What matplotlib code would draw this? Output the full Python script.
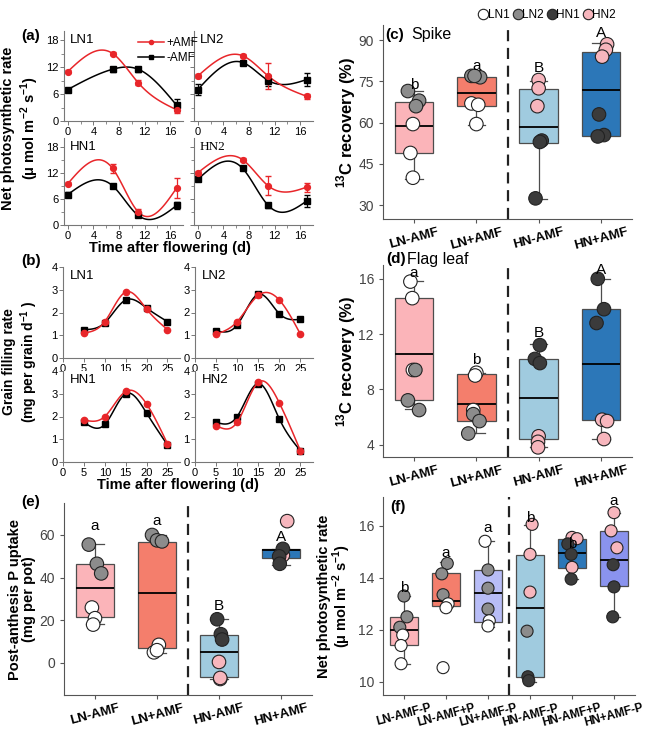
import numpy as np
import matplotlib
matplotlib.use('Agg')
import matplotlib.pyplot as plt
from matplotlib.lines import Line2D

plt.rcParams['font.family'] = ['Liberation Sans', 'DejaVu Sans']
plt.rcParams['mathtext.fontset'] = 'custom'
plt.rcParams['mathtext.rm'] = 'Liberation Sans'
plt.rcParams['mathtext.bf'] = 'Liberation Sans:bold'

# =============================================================================
#                 DATOS
# =============================================================================

sub_names = ['LN1', 'LN2', 'HN1', 'HN2']

# (a) fotosintesis neta vs tiempo
a_t = [0, 7, 11, 17]
a_plus = [[11, 15, 8.5, 2.5], [10, 14.5, 10, 5.5],
          [9.5, 13, 3.0, 8.5], [12, 15, 9, 8.7]]
a_minus = [[7, 11.5, 11.5, 3.5], [7, 13, 9, 9.2],
           [7, 9, 2.2, 4.5], [10.5, 13, 4.5, 5.5]]
a_plus_err = [[0.4, 0.4, 0.6, 0.8], [0.5, 0.3, 2.8, 0.6],
              [0.4, 1.0, 0.6, 2.3], [0.4, 0.4, 2.2, 1.0]]
a_minus_err = [[0.3, 0.6, 0.5, 1.3], [1.3, 0.3, 1.2, 1.5],
               [0.6, 0.3, 0.4, 0.8], [0.3, 0.3, 0.6, 1.3]]

# (b) tasa de llenado de grano
b_t = [5, 10, 15, 20, 25]
b_plus = [[1.1, 1.6, 2.9, 2.15, 1.25], [1.05, 1.6, 2.75, 2.55, 1.05],
          [1.85, 2.0, 3.1, 2.55, 0.8], [1.6, 1.75, 3.5, 2.6, 0.5]]
b_minus = [[1.25, 1.55, 2.55, 2.2, 1.6], [1.2, 1.45, 2.8, 1.95, 1.7],
           [1.75, 1.65, 3.0, 2.15, 0.75], [1.75, 2.0, 3.45, 1.9, 0.5]]

cats4 = ['LN-AMF', 'LN+AMF', 'HN-AMF', 'HN+AMF']
cats6 = ['LN-AMF-P', 'LN-AMF+P', 'LN+AMF-P', 'HN-AMF-P', 'HN-AMF+P', 'HN+AMF-P']

# (c) recuperacion 13C espiga
c_q1 = [48.9, 66.0, 52.5, 55.1]
c_med = [58.7, 70.7, 58.4, 71.8]
c_q3 = [67.5, 76.5, 72.2, 85.6]
c_lo = [39.5, 59.1, 32.2, 55.0]
c_hi = [71.5, 77.0, 75.1, 89.0]
c_vals = [[71.5, 68, 66, 59.5, 49, 40], [77, 76.5, 77, 67, 66.5, 59.5],
          [75.5, 72.5, 66, 53.5, 53, 32.5], [88.5, 86.5, 84, 63, 55.5, 55]]
c_grp = [['LN2'] * 3 + ['LN1'] * 3, ['LN2'] * 3 + ['LN1'] * 3,
         ['HN2'] * 3 + ['HN1'] * 3, ['HN2'] * 3 + ['HN1'] * 3]
c_letters = ['b', 'a', 'B', 'A']
c_letter_y = [73.6, 80.6, 79.8, 92.5]

# (d) recuperacion 13C hoja bandera
d_q1 = [7.23, 5.72, 4.4, 5.8]
d_med = [10.55, 6.94, 7.37, 9.85]
d_q3 = [14.6, 9.1, 10.2, 13.85]
d_lo = [6.55, 4.85, 3.85, 4.4]
d_hi = [15.83, 9.2, 11.3, 16.0]
d_vals = [[15.8, 14.6, 9.4, 9.4, 7.2, 6.5], [9.2, 9.0, 6.5, 6.2, 5.7, 4.8],
          [11.2, 10.2, 9.9, 4.6, 4.2, 3.8], [16.0, 13.8, 12.8, 5.8, 5.7, 4.4]]
d_grp = [['LN1'] * 3 + ['LN2'] * 3, ['LN1'] * 3 + ['LN2'] * 3,
         ['HN1'] * 3 + ['HN2'] * 3, ['HN1'] * 3 + ['HN2'] * 3]
d_letters = ['a', 'b', 'B', 'A']
d_letter_y = [16.4, 10.1, 12.1, 16.65]

# (e) absorcion de P post-antesis
e_q1 = [21.4, 7.0, -6.5, 49.3]
e_med = [35.3, 32.6, 5.1, 53.0]
e_q3 = [46.5, 56.7, 13.0, 53.5]
e_lo = [18.1, 4.7, -7.4, 46.0]
e_hi = [55.8, 60.0, 20.5, 53.5]
e_vals = [[55.5, 46.5, 42, 26, 21, 18], [60, 57.5, 57, 8.5, 5, 6],
          [20.5, 13.5, 11, 0.5, -7.5, -7], [66.5, 50.5, 53.5, 50, 46.5]]
e_grp = [['LN2'] * 3 + ['LN1'] * 3, ['LN2'] * 3 + ['LN1'] * 3,
         ['HN1'] * 3 + ['HN2'] * 3, ['HN2', 'HN2', 'HN1', 'HN1', 'HN1']]
e_letters = ['a', 'a', 'B', 'A']
e_letter_y = [64, 66.5, 26.5, 59]

# (f) fotosintesis neta con P
f_q1 = [11.43, 12.9, 12.3, 10.2, 14.37, 13.7]
f_med = [12.0, 13.1, 13.43, 12.83, 14.94, 14.7]
f_q3 = [12.5, 14.2, 14.3, 14.87, 15.5, 15.8]
f_lo = [10.7, 12.9, 12.1, 10.0, 13.96, 12.5]
f_hi = [13.3, 14.6, 15.43, 16.04, 15.5, 16.5]
f_vals = [[13.3, 12.5, 12.1, 11.8, 11.4, 10.7],
          [14.55, 14.15, 13.35, 13.0, 12.85, 10.55],
          [15.4, 14.3, 13.6, 12.8, 12.35, 12.15],
          [16.05, 14.9, 13.45, 11.95, 10.2, 10.05],
          [15.55, 15.5, 14.4, 15.3, 14.9, 13.95],
          [16.5, 15.8, 15.15, 14.5, 13.65, 12.5]]
f_grp = [['LN2'] * 3 + ['LN1'] * 3,
         ['LN2'] * 3 + ['LN1'] * 3,
         ['LN1', 'LN2', 'LN2', 'LN2', 'LN1', 'LN1'],
         ['HN2', 'HN2', 'HN2', 'LN2', 'HN1', 'HN1'],
         ['HN2'] * 3 + ['HN1'] * 3,
         ['HN2'] * 3 + ['HN1'] * 3]
f_letters = ['b', 'a', 'a', 'b', 'b', 'a']
f_letter_y = [13.6, 14.95, 15.9, 16.3, 15.3, 16.95]

# jitter horizontal
c_jit = [[-0.1, 0.08, 0.03, -0.02, -0.06, -0.02], [-0.08, 0.06, -0.03, -0.08, 0.03, 0.0],
         [0.0, 0.0, -0.02, 0.05, 0.02, -0.05], [0.1, 0.08, 0.02, -0.03, 0.05, -0.05]]
d_jit = [[-0.06, -0.03, -0.02, 0.02, -0.1, 0.08], [0.0, -0.02, -0.05, -0.05, 0.05, -0.13],
         [0.02, -0.06, 0.02, 0.0, -0.01, -0.01], [-0.05, 0.05, -0.07, 0.02, 0.1, 0.05]]
e_jit = [[-0.1, 0.03, 0.1, -0.05, 0.0, -0.03], [-0.08, 0.0, 0.08, 0.03, -0.05, 0.0],
         [-0.03, 0.03, 0.05, 0.0, 0.02, 0.02], [0.1, 0.03, 0.03, -0.03, -0.02]]
f_jit = [[0.0, 0.07, -0.1, -0.03, -0.07, -0.07], [0.03, -0.1, -0.07, 0.05, 0.0, -0.07],
         [-0.07, 0.0, 0.0, 0.0, 0.03, 0.0], [0.05, 0.0, 0.0, -0.07, -0.05, -0.03],
         [0.0, 0.12, 0.0, -0.1, -0.02, -0.02], [0.0, -0.07, 0.07, -0.02, 0.0, -0.03]]

grp_col = {'LN1': 'white', 'LN2': '#8c8c8c', 'HN1': '#3b3b3b', 'HN2': '#f7b6bd'}
box_col4 = ['#fbb4b9', '#f47e6c', '#a0cbdf', '#2c77b8']
box_col6 = ['#fbb4b9', '#f47e6c', '#b8bdf7', '#a0cbdf', '#2c77b8', '#8a93ee']
red = '#e8262a'

W, H = 645, 734


def rect(l, t, r, b):
    return [l / W, 1 - b / H, (r - l) / W, (b - t) / H]


def spline(x, y, n=120):
    # spline cubica natural
    x = np.asarray(x, float)
    y = np.asarray(y, float)
    nn = len(x)
    h = np.diff(x)
    A = np.zeros((nn, nn))
    r = np.zeros(nn)
    A[0, 0] = A[-1, -1] = 1
    for i in range(1, nn - 1):
        A[i, i - 1] = h[i - 1]
        A[i, i] = 2 * (h[i - 1] + h[i])
        A[i, i + 1] = h[i]
        r[i] = 3 * ((y[i + 1] - y[i]) / h[i] - (y[i] - y[i - 1]) / h[i - 1])
    c = np.linalg.solve(A, r)
    b = (y[1:] - y[:-1]) / h - h * (2 * c[:-1] + c[1:]) / 3
    d = (c[1:] - c[:-1]) / (3 * h)
    xs = np.linspace(x[0], x[-1], n)
    i = np.clip(np.searchsorted(x, xs) - 1, 0, nn - 2)
    dx = xs - x[i]
    return xs, y[i] + b[i] * dx + c[i] * dx ** 2 + d[i] * dx ** 3


fig = plt.figure(figsize=(6.45, 7.34), dpi=100)

# =============================================================================
#                 PANEL (a)
# =============================================================================

a_rects = [(64, 31, 183, 121), (194, 31, 313, 121), (64, 138, 183, 225), (194, 138, 313, 225)]
for k in range(4):
    ax = fig.add_axes(rect(*a_rects[k]))
    for yy, ee, col, mk in [(a_minus[k], a_minus_err[k], 'black', 's'),
                            (a_plus[k], a_plus_err[k], red, 'o')]:
        xs, ys = spline(a_t, yy)
        ax.plot(xs, ys, color=col, lw=1.1)
        ax.errorbar(a_t, yy, yerr=ee, fmt=mk, color=col, ms=4.2, elinewidth=0.9, capsize=2)
    ax.set_xlim(-0.6, 18)
    ax.set_ylim(0, 20)
    ax.set_xticks([0, 4, 8, 12, 16])
    ax.set_xticks([2, 6, 10, 14], minor=True)
    ax.set_yticks([0, 6, 12, 18])
    ax.set_yticks([3, 9, 15], minor=True)
    for s in ['top', 'right']:
        ax.spines[s].set_visible(False)
    for s in ['left', 'bottom']:
        ax.spines[s].set_color('#777777')
    ax.tick_params(labelsize=8, length=3, width=0.7, color='#777777', pad=1)
    ax.tick_params(which='minor', length=2, width=0.6, color='#777777')
    if k % 2 == 1:
        ax.set_yticklabels([])
    fam = ['Liberation Serif'] if sub_names[k] == 'HN2' else ['Liberation Sans']
    ax.text(0.05, 0.97, sub_names[k], transform=ax.transAxes, fontsize=9.5,
            va='top', family=fam)

fig.legend(handles=[Line2D([], [], color=red, marker='o', ms=3, lw=1.1, label='+AMF'),
                    Line2D([], [], color='black', marker='s', ms=3, lw=1.1, label='-AMF')],
           loc='upper left', bbox_to_anchor=(132 / W, 1 - 31 / H), frameon=False,
           fontsize=8.5, handlelength=2.2, handletextpad=0.2, labelspacing=0.3,
           borderpad=0)

fig.text(31 / W, 1 - 36 / H, '(a)', fontsize=11, fontweight='bold', va='center', ha='center')
fig.text(21 / W, 1 - 128 / H,
         'Net photosynthetic rate\n(μ mol m$^{\\mathbf{-2}}$ s$^{\\mathbf{-1}}$)',
         rotation=90, fontsize=10.5, fontweight='bold', ha='center', va='center',
         multialignment='center')
fig.text(170 / W, 1 - 248 / H, 'Time after flowering (d)', fontsize=10.5,
         fontweight='bold', ha='center', va='center')

# =============================================================================
#                 PANEL (b)
# =============================================================================

b_rects = [(63, 267, 180, 358), (195, 267, 313, 358), (63, 371, 180, 462), (195, 371, 313, 462)]
for k in range(4):
    ax = fig.add_axes(rect(*b_rects[k]))
    for yy, col, mk in [(b_minus[k], 'black', 's'), (b_plus[k], red, 'o')]:
        xs, ys = spline(b_t, yy)
        ax.plot(xs, ys, color=col, lw=1.1)
        ax.plot(b_t, yy, mk, color=col, ms=4.5)
    ax.set_xlim(0, 28)
    ax.set_ylim(0, 4)
    ax.set_xticks([0, 5, 10, 15, 20, 25])
    ax.set_yticks([0, 1, 2, 3, 4])
    for s in ['top', 'right']:
        ax.spines[s].set_visible(False)
    for s in ['left', 'bottom']:
        ax.spines[s].set_color('#777777')
    ax.tick_params(labelsize=8, length=3, width=0.7, color='#777777', pad=1)
    ax.text(0.06, 0.97, sub_names[k], transform=ax.transAxes, fontsize=9.5, va='top')

fig.text(31 / W, 1 - 261 / H, '(b)', fontsize=11, fontweight='bold', va='center', ha='center')
fig.text(21 / W, 1 - 362 / H, 'Grain filling rate\n(mg per grain d$^{\\mathbf{-1}}$ )',
         rotation=90, fontsize=10, fontweight='bold', ha='center', va='center',
         multialignment='center')
fig.text(178 / W, 1 - 485 / H, 'Time after flowering (d)', fontsize=10.5,
         fontweight='bold', ha='center', va='center')

# =============================================================================
#                 PANELES DE CAJAS
# =============================================================================


def panel_cajas(r, q1, med, q3, lo, hi, vals, grp, jit, letters, ly, cats, cols,
                ylim, yticks, bw, size):
    ax = fig.add_axes(rect(*r))
    n = len(cats)
    pos = np.arange(1, n + 1)
    stats = [dict(q1=q1[i], med=med[i], q3=q3[i], whislo=lo[i], whishi=hi[i], fliers=[])
             for i in range(n)]
    bp = ax.bxp(stats, positions=pos, widths=bw, patch_artist=True, showcaps=True,
                capwidths=0.28, medianprops=dict(color='black', lw=1.3),
                boxprops=dict(edgecolor='#4d4d4d', lw=0.9),
                whiskerprops=dict(color='#4d4d4d', lw=0.9),
                capprops=dict(color='#4d4d4d', lw=0.9))
    for patch, col in zip(bp['boxes'], cols):
        patch.set_facecolor(col)
    for i in range(n):
        xx = pos[i] + np.array(jit[i])
        ax.scatter(xx, vals[i], s=size, c=[grp_col[g] for g in grp[i]],
                   edgecolors='#222222', linewidths=0.8, zorder=3)
        ax.text(pos[i], ly[i], letters[i], ha='center', va='center', fontsize=11)
    ax.axvline(n / 2 + 0.5, color='#222222', ls=(0, (5, 3)), lw=1.6)
    ax.set_xlim(0.5, n + 0.5)
    ax.set_ylim(*ylim)
    ax.set_yticks(yticks)
    ax.set_xticks(pos)
    ax.set_xticklabels(cats, rotation=15, fontweight='bold', fontsize=9.5)
    for s in ['top', 'right']:
        ax.spines[s].set_visible(False)
    for s in ['left', 'bottom']:
        ax.spines[s].set_color('#555555')
    ax.tick_params(axis='y', labelsize=10, labelcolor='#444444', color='#555555', length=3)
    ax.tick_params(axis='x', color='#555555', length=3, pad=2)
    return ax


def ylab(ax, txt, xc, r, size):
    # etiqueta y centrada en la posicion x (pixeles) de la figura
    ax.set_ylabel(txt, fontsize=size, fontweight='bold', va='center', linespacing=1.0)
    ax.yaxis.set_label_coords((xc - r[0]) / (r[2] - r[0]), 0.5)


rc = (383, 25, 632, 219)
ax_c = panel_cajas(rc, c_q1, c_med, c_q3, c_lo, c_hi, c_vals, c_grp,
                   c_jit, c_letters, c_letter_y, cats4, box_col4, (25, 95.5),
                   [30, 45, 60, 75, 90], 0.62, 95)
ax_c.text(0.01, 0.95, '(c)', transform=ax_c.transAxes, fontsize=11, fontweight='bold',
          va='center')
ax_c.text(0.115, 0.95, 'Spike', transform=ax_c.transAxes, fontsize=11.5, va='center')
ylab(ax_c, '$^{\\mathbf{13}}$C recovery (%)', 346, rc, 12)

rd = (383, 265, 632, 457)
ax_d = panel_cajas(rd, d_q1, d_med, d_q3, d_lo, d_hi, d_vals, d_grp,
                   d_jit, d_letters, d_letter_y, cats4, box_col4, (3.1, 17.0),
                   [4, 8, 12, 16], 0.62, 95)
fig.text(386 / W, 1 - 259 / H, '(d)', fontsize=11, fontweight='bold', va='center')
fig.text(407 / W, 1 - 259 / H, 'Flag leaf', fontsize=11.5, va='center')
ylab(ax_d, '$^{\\mathbf{13}}$C recovery (%)', 346, rd, 12)

re_ = (64, 503, 312, 695)
ax_e = panel_cajas(re_, e_q1, e_med, e_q3, e_lo, e_hi, e_vals, e_grp,
                   e_jit, e_letters, e_letter_y, cats4, box_col4, (-15, 75),
                   [0, 20, 40, 60], 0.62, 95)
fig.text(31 / W, 1 - 502 / H, '(e)', fontsize=11, fontweight='bold', va='center', ha='center')
ylab(ax_e, 'Post-anthesis P uptake\n(mg per pot)', 22, re_, 10.5)

rf = (383, 497, 635, 695)
ax_f = panel_cajas(rf, f_q1, f_med, f_q3, f_lo, f_hi, f_vals, f_grp,
                   f_jit, f_letters, f_letter_y, cats6, box_col6, (9.5, 17.1),
                   [10, 12, 14, 16], 0.66, 75)
ax_f.text(0.03, 0.95, '(f)', transform=ax_f.transAxes, fontsize=11, fontweight='bold',
          va='center')
ylab(ax_f, 'Net photosynthetic rate\n(μ mol m$^{\\mathbf{-2}}$ s$^{\\mathbf{-1}}$)', 335, rf, 10.5)
for lab in ax_f.get_xticklabels():
    lab.set_fontsize(8.5)

# leyenda de cultivares
fig.legend(handles=[Line2D([], [], ls='', marker='o', ms=7.5, mfc=grp_col[g],
                           mec='#222222', mew=0.8, label=g) for g in sub_names],
           loc='upper right', bbox_to_anchor=(622 / W, 1 - 3 / H), ncol=4, frameon=False,
           fontsize=8.5, handlelength=0.7, handletextpad=0.05, columnspacing=0.3,
           borderpad=0)

fig.savefig('out.png', dpi=100)
